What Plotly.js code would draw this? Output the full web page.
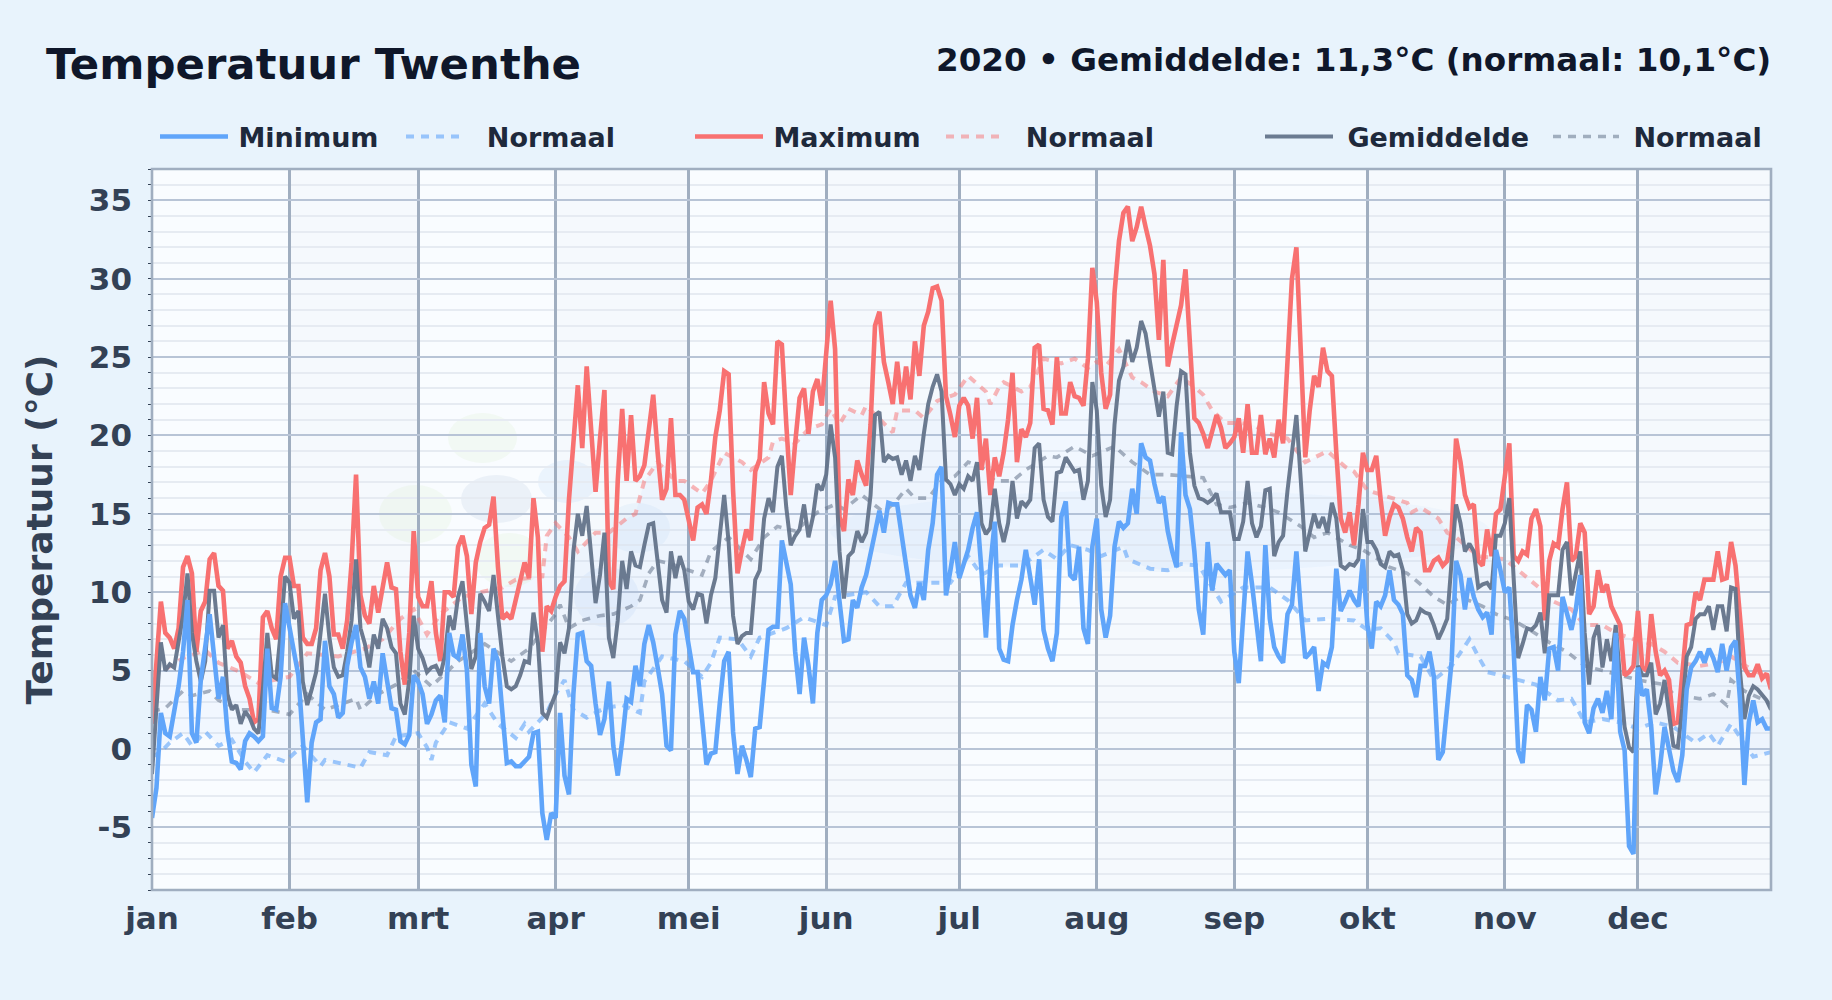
<!DOCTYPE html>
<html><head><meta charset="utf-8">
<script src="https://cdn.plot.ly/plotly-3.0.1.min.js"></script>
<style>html,body{margin:0;padding:0;background:#e8f3fc}#c{width:1832px;height:1000px}</style>
</head><body><div id="c"></div>
<script>
var monthLabels=['jan','feb','mrt','apr','mei','jun','jul','aug','sep','okt','nov','dec'];
var monthStarts=['2020-01-01','2020-02-01','2020-03-01','2020-04-01','2020-05-01','2020-06-01','2020-07-01','2020-08-01','2020-09-01','2020-10-01','2020-11-01','2020-12-01'];
var yTicks=[-5,0,5,10,15,20,25,30,35];
var yTickLabels=['-5','0','5','10','15','20','25','30','35'];
var titleText='Temperatuur Twenthe';
var subtitleText='2020 • Gemiddelde: 11,3°C (normaal: 10,1°C)';

var maxT=[1.6,5.5,9.4,7.4,7.1,6.4,7.7,11.6,12.3,11.2,6.2,8.8,9.4,12.1,12.5,10.4,10.1,6.4,6.9,5.9,5.5,4.0,3.2,1.7,1.9,8.4,8.8,7.7,7.0,11.0,12.2,
12.2,10.4,10.4,7.1,6.7,6.7,7.7,11.4,12.5,11.0,7.3,7.3,6.4,8.2,11.9,17.5,9.8,8.5,8.0,10.4,8.7,10.3,11.9,10.3,10.2,6.2,4.1,7.4,13.9,
9.7,9.1,9.1,10.7,7.4,5.6,10.0,10.0,9.7,12.9,13.6,12.3,8.6,11.9,13.2,14.1,14.3,16.1,11.6,8.3,8.6,8.3,9.5,10.7,11.9,10.9,16.0,13.5,6.2,9.1,8.8,
9.7,10.4,10.7,15.9,19.5,23.2,19.2,24.4,20.4,16.4,19.8,22.9,10.7,10.2,17.1,21.7,17.1,21.3,17.1,17.4,18.1,20.4,22.6,18.9,15.9,16.6,21.1,16.2,16.2,15.9,
14.5,13.3,15.4,15.6,15.0,17.1,19.9,21.6,24.1,23.9,16.5,11.2,12.7,14.0,13.3,17.7,18.5,23.4,21.4,20.7,26.0,25.8,20.7,16.2,19.5,22.4,23.0,20.1,22.8,23.6,21.9,
24.9,28.6,25.5,14.8,13.9,17.2,16.2,18.4,17.5,16.8,20.7,27.0,27.9,24.7,23.4,22.0,24.7,22.0,24.4,22.3,26.0,23.8,27.0,27.9,29.4,29.5,28.6,22.5,21.3,19.9,
21.9,22.4,21.9,19.8,22.4,17.8,19.8,16.2,18.6,17.4,18.9,21.0,24.0,18.3,20.4,19.9,20.8,25.6,25.8,21.7,21.6,20.7,25.0,21.4,21.4,23.4,22.5,22.4,21.9,24.9,30.7,
28.5,24.0,21.7,22.6,29.1,32.4,34.2,34.6,32.4,33.3,34.6,33.3,32.1,30.3,26.1,31.2,24.4,25.8,27.0,28.3,30.6,26.4,21.1,20.8,20.1,19.2,20.4,21.3,20.5,19.2,
19.5,19.9,21.1,18.9,22.0,18.9,18.9,21.3,18.8,19.8,18.6,21.0,19.5,25.5,30.0,32.0,25.5,18.6,21.6,23.8,23.1,25.6,24.1,23.8,18.9,14.7,13.8,15.1,13.0,15.6,18.9,
17.8,17.8,18.7,15.9,13.6,14.8,15.6,15.4,14.7,13.5,12.6,14.1,13.8,11.4,11.4,12.0,12.2,11.7,12.0,13.8,19.8,18.3,16.2,15.4,15.6,12.0,11.7,14.0,12.3,15.0,15.3,
17.4,19.5,12.3,12.0,12.6,12.4,14.7,15.3,14.2,8.2,12.0,13.1,12.9,15.3,17.0,12.0,12.3,14.4,13.8,8.6,9.1,11.4,10.0,10.5,9.1,8.5,7.9,4.7,4.9,5.3,
8.8,5.2,5.0,8.6,6.2,4.7,5.0,4.4,1.6,1.7,4.7,7.9,8.0,10.0,9.5,10.8,10.8,10.8,12.6,10.8,10.9,13.2,11.7,8.6,5.2,4.7,4.7,5.4,4.5,4.8,3.8];

var meanT=[-1.6,2.9,6.8,5.0,5.4,5.2,6.8,8.5,11.2,7.4,5.6,4.3,5.6,10.1,10.1,7.1,7.9,3.5,2.5,2.8,1.6,2.4,2.0,1.3,1.0,3.8,7.4,4.7,4.5,7.4,11.0,
10.6,8.3,8.8,4.3,2.8,3.8,4.9,7.4,9.9,7.1,5.2,4.6,4.7,6.2,8.2,12.1,7.7,6.7,5.2,7.3,6.4,8.3,7.7,6.5,6.1,2.9,2.2,4.4,8.5,
6.4,5.8,4.9,5.2,5.3,4.7,5.9,8.5,7.6,9.7,10.7,7.9,5.1,5.9,9.9,9.4,8.8,11.1,8.5,5.9,4.0,3.8,4.0,4.7,5.6,5.5,8.7,6.8,2.3,2.0,2.8,
3.5,6.8,6.1,7.7,12.6,15.0,13.6,15.5,12.6,9.3,11.1,13.8,7.1,5.8,8.2,12.0,10.2,12.6,11.7,11.6,13.0,14.3,14.4,11.7,9.5,8.7,12.6,10.9,12.3,11.4,
9.4,8.9,9.9,9.8,8.0,9.8,10.9,13.6,16.2,13.2,8.5,6.7,7.2,7.4,7.4,10.8,11.4,14.7,16.0,15.1,18.0,18.7,15.4,13.0,13.6,14.0,15.6,13.5,14.8,16.9,16.5,
17.5,20.7,18.6,12.6,9.6,12.3,12.6,13.9,13.2,13.8,16.2,21.3,21.5,18.3,18.7,18.5,18.6,17.5,18.4,17.1,18.7,17.8,20.1,22.0,23.1,23.9,22.8,17.2,16.9,16.2,
16.9,16.6,17.4,17.1,18.3,14.4,13.7,14.1,16.6,14.4,13.2,14.4,17.1,14.7,15.8,15.5,15.9,19.2,19.5,15.9,14.8,14.5,17.6,17.7,18.6,18.1,17.7,17.8,15.9,17.1,23.4,
21.6,16.8,14.8,15.9,20.7,23.5,24.4,26.1,24.7,25.6,27.3,26.5,24.7,23.1,21.2,22.8,18.9,18.8,21.9,24.1,23.9,18.9,16.8,16.0,15.9,15.7,15.9,16.3,15.1,15.1,
15.1,13.4,13.4,14.5,17.1,14.4,13.5,14.2,16.5,16.6,12.3,13.2,13.6,16.5,19.2,21.3,17.1,12.6,13.8,15.0,14.1,14.8,13.8,15.7,14.7,11.7,11.5,11.8,11.7,12.1,15.3,
13.2,13.2,12.7,11.8,11.6,12.6,12.3,12.4,11.4,8.6,8.0,8.2,8.9,8.7,8.6,7.9,7.0,7.6,8.3,12.0,15.6,14.4,12.6,13.1,12.6,10.3,10.5,10.6,10.2,13.6,13.6,
14.4,16.0,10.8,5.8,6.7,7.7,7.6,7.9,8.7,6.1,9.8,9.8,9.8,12.7,13.2,9.8,11.1,12.6,7.4,4.1,7.1,7.9,5.2,7.0,5.6,7.9,4.4,1.4,0.1,-0.2,
5.3,4.7,4.7,5.5,2.2,2.9,4.4,2.3,0.2,0.1,2.6,5.9,6.5,8.3,8.6,8.6,9.1,7.6,9.1,9.1,7.5,10.3,10.2,5.0,1.9,3.4,4.0,3.8,3.4,3.1,2.5];

var minT=[-4.4,-2.5,2.3,1.0,0.8,2.3,4.0,6.2,9.5,1.0,0.4,4.4,6.5,8.6,5.9,3.2,4.6,1.1,-0.8,-0.9,-1.3,0.5,1.0,0.8,0.5,0.8,6.4,2.6,2.5,4.6,9.3,
7.9,6.2,4.7,0.2,-3.4,0.4,1.7,1.9,6.9,4.0,3.5,2.0,2.3,5.3,6.8,7.9,5.2,4.6,3.2,4.3,2.9,6.1,4.3,2.6,2.5,0.5,0.3,0.9,4.7,
4.3,3.5,1.6,2.2,3.1,3.4,1.7,7.4,6.0,5.8,7.3,5.0,-1.0,-2.4,7.4,4.0,2.9,6.4,5.6,2.3,-0.9,-0.8,-1.1,-1.1,-0.8,-0.5,1.0,1.1,-4.1,-5.8,-4.1,
-4.4,2.3,-1.7,-2.9,3.5,7.3,7.4,5.6,5.3,2.9,0.9,1.9,4.3,0.2,-1.7,0.5,3.2,3.0,5.3,4.0,6.7,7.9,6.8,5.2,3.5,0.2,-0.1,7.3,8.8,8.3,
6.5,4.9,4.9,1.6,-1.0,-0.3,-0.2,2.9,5.6,6.2,1.1,-1.6,0.2,-0.7,-1.8,1.3,1.4,4.4,7.6,7.8,7.8,13.3,11.7,10.5,6.2,3.5,7.1,5.3,2.9,7.4,9.5,
9.8,10.5,12.0,9.4,6.9,7.0,9.5,9.0,10.3,11.1,12.3,13.8,15.2,13.8,15.7,15.6,15.6,13.8,12.0,9.8,9.0,10.6,9.5,12.7,14.4,17.5,18.0,9.8,11.4,13.2,
10.9,11.7,12.7,14.1,15.1,11.4,7.1,11.7,14.5,6.4,5.7,5.6,7.9,9.5,10.8,12.7,11.1,9.2,12.1,7.6,6.4,5.6,7.4,14.8,15.8,11.1,10.8,12.9,7.7,6.7,12.9,
14.7,8.9,7.1,8.5,12.9,14.5,14.1,14.4,16.6,15.0,19.5,18.6,18.4,16.9,15.7,16.1,13.9,12.6,11.6,20.2,16.2,15.3,12.6,8.9,7.3,13.2,10.1,11.8,11.5,11.1,
11.4,6.2,4.2,8.6,12.6,10.5,8.3,5.6,13.0,8.3,6.5,5.9,5.5,8.6,9.2,12.6,8.9,5.8,6.1,6.5,3.7,5.5,5.3,6.5,11.5,8.8,9.4,10.1,9.5,9.1,12.1,
7.9,6.4,9.4,9.1,9.8,11.4,9.5,9.2,8.6,4.7,4.4,3.3,5.3,5.3,6.2,4.6,-0.7,-0.2,2.9,5.6,12.0,11.1,8.9,10.9,9.7,8.9,8.4,8.7,7.3,12.7,11.4,
10.0,10.3,6.2,-0.1,-0.9,2.8,2.5,1.1,4.6,3.1,6.4,6.5,5.0,9.7,8.6,7.6,8.9,11.1,1.7,1.0,2.6,3.2,2.3,3.7,1.9,7.4,1.1,-0.1,-6.2,-6.7,
5.2,3.4,3.8,1.4,-2.9,-1.1,1.4,-0.1,-1.4,-2.1,-0.4,3.8,5.2,5.6,6.2,5.5,6.4,5.8,4.9,6.7,5.0,6.5,6.9,3.2,-2.3,1.7,3.1,1.7,1.9,1.3,1.3];

var normMaxDays=[0,2,7,12,15,20,24,31,35,42,48,52,56,59,62,65,70,74,79,82,88,89,91,94,96,100,103,107,109,111,114,118,120,124,126,129,133,135,139,140,142,145,148,151,153,155,157,160,161,167,168,172,174,177,181,184,188,189,191,192,196,198,201,205,208,211,213,215,218,221,223,226,229,232,235,237,239,242,245,248,252,256,260,263,265,269,271,274,281,283,284,286,290,292,294,299,305,308,310,314,316,320,323,327,330,334,338,341,344,349,353,356,361,365];
var normMaxVals=[4.8,4.9,5.8,6.3,5.5,4.9,4.2,4.6,6.1,5.9,6.4,7.0,8.3,8.9,7.3,8.6,9.7,10.0,10.3,10.8,11.0,13.6,14.4,13.5,12.6,13.8,13.8,14.7,15.0,17.1,18.3,17.1,17.1,16.3,17.1,18.9,18.3,17.8,18.6,19.6,19.8,19.5,20.4,20.7,21.7,20.7,21.7,21.3,21.9,20.2,21.6,21.6,21.1,22.2,22.6,23.8,22.8,22.0,23.1,23.4,22.8,23.1,24.9,24.6,24.9,24.3,24.7,24.4,25.5,23.7,23.4,22.8,22.5,23.7,23.1,22.6,21.6,20.8,20.8,20.7,20.1,19.8,18.3,18.7,19.0,18.0,17.7,16.5,15.9,15.7,15.1,15.4,14.7,13.8,13.5,12.3,12.1,11.4,10.9,10.0,9.4,8.9,7.9,7.9,7.4,7.0,6.7,6.2,5.5,5.3,5.5,5.9,5.0,4.6];

var normMeanDays=[0,3,7,9,13,15,20,26,31,35,39,42,46,47,51,55,59,63,69,75,81,85,91,92,94,97,101,104,108,110,112,114,117,121,124,126,130,135,138,141,145,150,154,156,160,165,168,170,172,175,178,181,184,187,190,194,197,202,204,208,212,217,221,225,229,233,237,240,243,247,251,254,259,262,265,270,273,277,279,283,286,289,292,295,300,303,307,310,315,319,323,327,331,335,341,343,349,352,355,356,359,365];
var normMeanVals=[2.4,2.6,3.7,3.4,3.7,3.1,2.5,2.5,2.2,3.5,2.5,2.8,3.2,2.5,3.5,4.1,5.0,4.0,5.6,6.7,5.6,6.4,8.6,9.2,7.7,8.2,8.5,8.6,9.1,9.5,11.2,12.0,11.8,11.4,11.1,12.6,13.5,12.1,13.5,14.2,13.9,15.1,15.6,15.3,16.2,15.1,15.9,16.6,16.0,16.0,17.1,17.4,18.3,18.0,17.1,17.1,17.8,18.7,18.6,19.3,18.7,19.3,18.3,17.5,17.5,17.4,17.3,15.6,15.4,15.7,15.4,15.1,14.2,13.5,13.8,13.0,12.7,12.0,11.6,11.2,10.5,9.7,9.2,9.7,9.1,8.6,8.2,7.7,6.8,6.2,5.3,5.0,4.7,4.4,4.1,3.5,3.2,3.5,2.8,4.4,3.7,2.9];

var normMinDays=[0,2,4,7,9,12,15,18,21,23,26,30,34,38,39,44,47,49,53,55,60,62,63,64,67,71,75,78,82,84,85,89,91,93,95,98,102,106,110,111,115,120,124,126,128,132,135,137,143,147,152,154,161,164,167,170,175,180,184,187,191,196,201,204,207,211,214,219,220,225,229,232,236,241,246,252,256,260,265,271,274,277,280,281,286,289,293,297,299,301,304,308,312,317,320,323,327,331,335,339,343,348,351,353,356,361,365];
var normMinVals=[-0.5,-0.2,0.4,1.0,0.2,1.1,0.2,0.6,-0.8,-1.5,-0.4,-0.8,0.2,-1.1,-0.7,-1.0,-1.2,-0.2,-0.4,0.8,1.0,0.1,-0.7,0.4,1.7,1.3,2.9,1.6,0.7,1.6,1.1,2.3,3.5,4.4,2.5,2.0,2.6,2.8,2.3,4.3,5.9,5.6,4.6,5.5,7.1,7.0,5.9,7.1,7.7,8.4,7.9,9.7,10.0,9.1,9.1,10.6,10.6,10.6,12.3,11.1,11.7,11.7,12.7,12.1,13.0,12.7,12.3,12.9,12.1,11.5,11.4,11.8,11.7,9.4,10.3,10.3,9.5,8.2,8.3,8.2,7.6,7.7,6.8,6.1,5.9,4.4,5.3,7.0,5.9,4.9,4.7,4.4,4.1,3.1,3.2,1.7,1.9,1.7,1.3,1.7,1.4,0.4,1.0,0.2,1.6,-0.5,-0.2];

var seriesNames=['Minimum','Normaal','Maximum','Normaal','Gemiddelde','Normaal'];
var NB='\u00A0',TH='\u2009';
var blue='#60a5fa',red='#f87171',grey='#64748b';
var yr0=Date.UTC(2020,0,1);
function dateOf(i){return new Date(yr0+i*864e5).toISOString().slice(0,10);}
var dailyX=maxT.map(function(_,i){return dateOf(i);});
function line(x,y,name,color,w,dash,op,leg){
  return {x:x,y:y,name:name,mode:'lines',type:'scatter',opacity:op,
    line:{color:color,width:w,dash:dash},legend:leg,hoverinfo:'x+y+name'};
}
var traces=[
 {x:normMinDays.map(dateOf),y:normMinVals,mode:'lines',line:{width:0},showlegend:false,hoverinfo:'skip'},
 {x:normMaxDays.map(dateOf),y:normMaxVals,mode:'lines',line:{width:0},fill:'tonexty',fillcolor:'rgba(96,165,250,0.05)',showlegend:false,hoverinfo:'skip'},
 line(normMinDays.map(dateOf),normMinVals,NB+NB+seriesNames[1],blue,4,'8px,7px',0.6,'legend2'),
 line(normMaxDays.map(dateOf),normMaxVals,NB+TH+seriesNames[3],red,4,'8px,7px',0.5,'legend4'),
 line(normMeanDays.map(dateOf),normMeanVals,NB+seriesNames[5],grey,3.6,'8px,7px',0.55,'legend6'),
 line(dailyX,maxT,TH+seriesNames[2],red,4.6,'solid',1,'legend3'),
 line(dailyX,meanT,NB+seriesNames[4],grey,4,'solid',0.95,'legend5'),
 line(dailyX,minT,TH+seriesNames[0],blue,4.6,'solid',1,'legend')
];
var legBase={orientation:'h',yanchor:'middle',xanchor:'left',bgcolor:'rgba(0,0,0,0)',borderwidth:0,font:{family:'DejaVu Sans',size:27,weight:700,color:'#1e293b'},traceorder:'normal'};
function leg(xpx,w){return Object.assign({},legBase,{x:xpx/1832,y:1-137/1000,xref:'container',yref:'container',itemwidth:w});}
var shapes=[];
for(var i=1;i<12;i+=2){
  var next=i<11?monthStarts[i+1]:'2020-12-31';
  shapes.push({type:'rect',layer:'below',xref:'x',yref:'paper',x0:monthStarts[i],x1:next,y0:0,y1:1,fillcolor:'rgba(148,170,210,0.04)',line:{width:0}});
}
// faint watermark logo blobs behind the plot
var PL=152,PT=169,PW=1619,PH=721;
function blob(x0,y0,x1,y1,c){shapes.push({type:'circle',layer:'below',xref:'paper',yref:'paper',x0:(x0-PL)/PW,x1:(x1-PL)/PW,y0:1-(y1-PT)/PH,y1:1-(y0-PT)/PH,fillcolor:c,line:{width:0}});}
blob(448,413,517,463,'rgba(190,225,150,0.10)');
blob(379,485,452,543,'rgba(190,225,150,0.10)');
blob(475,533,544,587,'rgba(190,225,150,0.10)');
blob(461,475,532,523,'rgba(120,150,190,0.10)');
blob(538,460,597,503,'rgba(120,180,235,0.10)');
blob(574,567,639,627,'rgba(120,180,235,0.10)');
blob(605,503,670,553,'rgba(120,180,235,0.08)');
blob(830,490,1490,572,'rgba(120,170,230,0.05)');
shapes.push({type:'rect',layer:'above',xref:'paper',yref:'paper',x0:0,x1:1,y0:0,y1:1,line:{color:'#a0aec0',width:2.6},fillcolor:'rgba(0,0,0,0)'});
var layout={
 width:1832,height:1000,paper_bgcolor:'#e8f3fc',plot_bgcolor:'#f9fcff',
 margin:{l:PL,r:61,t:PT,b:110},
 title:{text:titleText,x:46/1832,xanchor:'left',xref:'container',y:1-64/1000,yanchor:'middle',yref:'container',font:{family:'DejaVu Sans',size:43.4,weight:700,color:'#0f172a'}},
 annotations:[{text:subtitleText,xref:'paper',yref:'paper',x:1,xshift:2,y:(1000-110-60)/721,xanchor:'right',yanchor:'middle',showarrow:false,font:{family:'DejaVu Sans',size:32.6,weight:700,color:'#0f172a'}}],
 shapes:shapes,
 showlegend:true,
 legend:leg(155,68),legend2:leg(401,57),legend3:leg(690,68),legend4:leg(941,60),legend5:leg(1260,68),legend6:leg(1548,66),
 xaxis:{type:'date',range:['2020-01-01','2020-12-31'],tickmode:'array',tickvals:monthStarts,ticktext:monthLabels,
   showgrid:true,gridcolor:'#a0aec0',gridwidth:2.5,showline:false,ticks:'',zeroline:false,
   tickfont:{family:'DejaVu Sans',size:31,weight:700,color:'#334155'},ticklabelstandoff:7},
 yaxis:{range:[-9,37],tickmode:'array',tickvals:yTicks,ticktext:yTickLabels,showgrid:true,gridcolor:'#b8c4d6',gridwidth:2.2,showline:false,ticks:'',zeroline:false,
   tickfont:{family:'DejaVu Sans',size:31,weight:700,color:'#334155'},ticklabelstandoff:19,
   title:{text:'Temperatuur (°C)',standoff:25,font:{family:'DejaVu Sans',size:36,weight:700,color:'#334155'}},
   minor:{dtick:1,tick0:0,showgrid:true,gridcolor:'#e6ebf2',gridwidth:1.6,ticks:'outside',ticklen:3,tickwidth:1.2,tickcolor:'#334155'}}
};
Plotly.newPlot('c',traces,layout,{displayModeBar:false,responsive:false});
</script></body></html>
